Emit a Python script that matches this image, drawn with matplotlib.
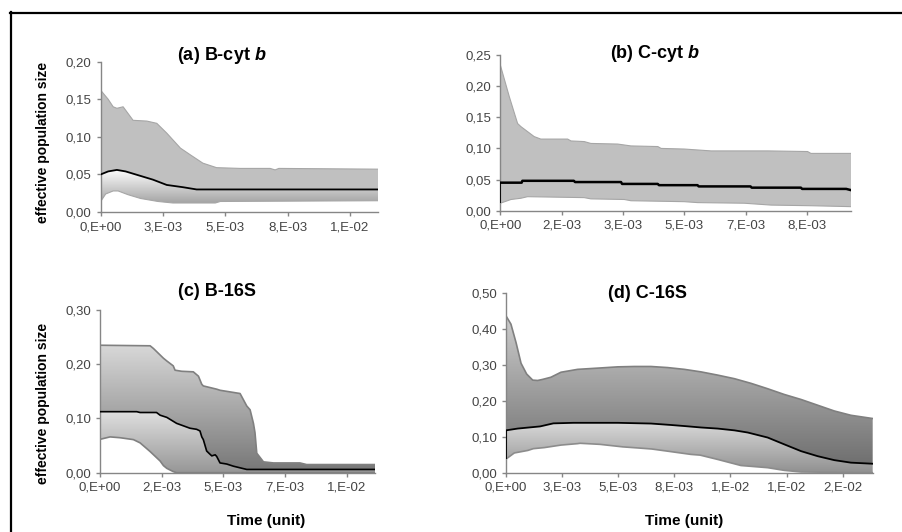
import numpy as np
import matplotlib
matplotlib.use("Agg")
import matplotlib.pyplot as plt
from matplotlib.patches import Polygon
from matplotlib.lines import Line2D
from matplotlib.colors import LinearSegmentedColormap

plt.rcParams["font.family"] = ["Liberation Sans", "DejaVu Sans"]
plt.rcParams["mathtext.fontset"] = "custom"
plt.rcParams["mathtext.rm"] = "Liberation Sans:bold"
plt.rcParams["mathtext.it"] = "Liberation Sans:italic:bold"
plt.rcParams["mathtext.bf"] = "Liberation Sans:bold"

# x values are in units of 1e-3 (time), y = effective population size

# (a) B-cyt b
a_up_x = [0, 0.3, 0.5, 0.65, 0.9, 1.3, 1.85, 2.25, 2.65, 3.2, 3.6, 4.1, 4.65, 5.6, 6.8, 7.0, 7.15, 11.13]
a_up_y = [0.162, 0.150, 0.140, 0.138, 0.140, 0.122, 0.121, 0.118, 0.105, 0.085, 0.076, 0.065, 0.059, 0.058, 0.058, 0.056, 0.058, 0.057]
a_med_x = [0, 0.3, 0.65, 1.0, 1.6, 2.1, 2.65, 3.3, 3.85, 11.13]
a_med_y = [0.050, 0.054, 0.056, 0.054, 0.048, 0.043, 0.036, 0.033, 0.030, 0.030]
a_low_x = [0, 0.2, 0.5, 0.7, 1.1, 1.6, 2.3, 2.9, 4.6, 4.8, 11.13]
a_low_y = [0.014, 0.024, 0.028, 0.028, 0.023, 0.018, 0.014, 0.012, 0.012, 0.014, 0.015]

# (b) C-cyt b
b_up_x = [0, 0.245, 0.47, 0.56, 0.74, 0.92, 1.1, 1.83, 1.92, 2.28, 2.46, 3.19, 3.55, 4.28, 4.37, 5.0, 5.73, 7.27, 8.35, 8.44, 9.53]
b_up_y = [0.234, 0.183, 0.140, 0.135, 0.127, 0.119, 0.115, 0.115, 0.112, 0.111, 0.108, 0.107, 0.104, 0.103, 0.100, 0.099, 0.096, 0.096, 0.095, 0.092, 0.092]
b_med_x = [0, 0.58, 0.6, 2.0, 2.03, 3.28, 3.31, 4.28, 4.31, 5.36, 5.39, 6.8, 6.83, 8.17, 8.2, 9.4, 9.53]
b_med_y = [0.045, 0.045, 0.048, 0.048, 0.046, 0.046, 0.043, 0.043, 0.041, 0.041, 0.039, 0.039, 0.037, 0.037, 0.035, 0.035, 0.033]
b_low_x = [0, 0.29, 0.56, 0.74, 2.28, 2.46, 3.37, 3.55, 5.0, 5.36, 6.63, 7.36, 8.44, 9.53]
b_low_y = [0.012, 0.018, 0.020, 0.0225, 0.021, 0.019, 0.018, 0.016, 0.0145, 0.013, 0.012, 0.009, 0.008, 0.0065]

# (c) B-16S
c_up_x = [0, 1.95, 2.08, 2.47, 2.6, 2.85, 2.92, 3.18, 3.63, 3.83, 3.96, 4.02, 4.54, 4.67, 5.06, 5.45, 5.71, 5.84, 5.97, 6.03, 6.10, 6.36, 6.75, 7.78, 8.04, 10.70]
c_up_y = [0.235, 0.234, 0.229, 0.211, 0.206, 0.197, 0.189, 0.187, 0.186, 0.178, 0.163, 0.160, 0.154, 0.152, 0.149, 0.146, 0.123, 0.116, 0.091, 0.074, 0.036, 0.020, 0.018, 0.018, 0.015, 0.015]
c_med_x = [0, 1.43, 1.56, 2.2, 2.34, 2.6, 2.98, 3.5, 3.76, 3.89, 3.96, 4.02, 4.15, 4.28, 4.35, 4.48, 4.54, 4.67, 4.93, 5.06, 5.19, 5.45, 5.71, 10.70]
c_med_y = [0.1125, 0.1125, 0.111, 0.111, 0.106, 0.102, 0.091, 0.082, 0.080, 0.077, 0.066, 0.061, 0.040, 0.034, 0.031, 0.033, 0.030, 0.018, 0.016, 0.014, 0.012, 0.009, 0.006, 0.006]
c_low_x = [0, 0.39, 0.78, 1.30, 1.56, 1.95, 2.34, 2.47, 2.6, 2.85, 2.98, 10.70]
c_low_y = [0.0615, 0.066, 0.0645, 0.061, 0.055, 0.039, 0.0215, 0.013, 0.008, 0.002, 0.0, 0.0]

# (d) C-16S
d_up_x = [0, 0.22, 0.45, 0.67, 0.92, 1.19, 1.41, 1.63, 2.0, 2.45, 3.19, 4.23, 4.98, 5.72, 6.46, 7.20, 7.95, 8.69, 9.43, 10.18, 10.92, 11.66, 12.40, 13.15, 13.89, 14.63, 15.37, 16.34]
d_up_y = [0.437, 0.414, 0.362, 0.305, 0.275, 0.258, 0.257, 0.260, 0.266, 0.280, 0.288, 0.292, 0.295, 0.296, 0.296, 0.293, 0.288, 0.281, 0.272, 0.262, 0.249, 0.234, 0.218, 0.204, 0.188, 0.172, 0.160, 0.151]
d_med_x = [0, 0.52, 1.52, 2.11, 3.0, 4.98, 6.46, 7.35, 7.95, 8.69, 9.43, 10.18, 10.77, 11.66, 12.40, 13.15, 13.89, 14.63, 15.37, 16.34]
d_med_y = [0.118, 0.123, 0.129, 0.1375, 0.139, 0.139, 0.137, 0.133, 0.130, 0.126, 0.123, 0.118, 0.112, 0.098, 0.079, 0.060, 0.046, 0.035, 0.028, 0.025]
d_low_x = [0, 0.37, 0.97, 1.22, 1.71, 2.45, 3.19, 3.3, 4.19, 5.2, 5.87, 6.5, 7.2, 8.24, 8.65, 9.43, 10.47, 11.66, 12.40, 13.15, 16.34]
d_low_y = [0.038, 0.055, 0.062, 0.067, 0.070, 0.077, 0.081, 0.082, 0.079, 0.072, 0.069, 0.066, 0.060, 0.051, 0.049, 0.037, 0.020, 0.014, 0.0065, 0.002, 0.0]

# axes
a_xticks = [0, 2.5, 5, 7.5, 10]
a_xlabels = ["0,E+00", "3,E-03", "5,E-03", "8,E-03", "1,E-02"]
b_xticks = [0, 1.667, 3.333, 5.0, 6.667, 8.333]
b_xlabels = ["0,E+00", "2,E-03", "3,E-03", "5,E-03", "7,E-03", "8,E-03"]
c_xticks = [0, 2.4, 4.8, 7.2, 9.6]
c_xlabels = ["0,E+00", "2,E-03", "5,E-03", "7,E-03", "1,E-02"]
d_xticks = [0, 2.5, 5, 7.5, 10, 12.5, 15]
d_xlabels = ["0,E+00", "3,E-03", "5,E-03", "8,E-03", "1,E-02", "1,E-02", "2,E-02"]

a_yticks = [0, 0.05, 0.10, 0.15, 0.20]
b_yticks = [0, 0.05, 0.10, 0.15, 0.20, 0.25]
c_yticks = [0, 0.10, 0.20, 0.30]
d_yticks = [0, 0.10, 0.20, 0.30, 0.40, 0.50]

W, H = 903, 532
fig = plt.figure(figsize=(W / 100, H / 100), dpi=100)


def px_box(x0, x1, ytop, ybot):
    return [x0 / W, 1 - ybot / H, (x1 - x0) / W, (ybot - ytop) / H]


def poly_pts(x1, y1, x2, y2):
    return np.column_stack([np.r_[x1, x2[::-1]], np.r_[y1, y2[::-1]]])


def flat_band(ax, x1, y1, x2, y2, color):
    ax.add_patch(Polygon(poly_pts(np.array(x1), np.array(y1), np.array(x2), np.array(y2)),
                         closed=True, facecolor=color, edgecolor="none", zorder=1))


def grad_band(ax, x1, y1, x2, y2, c_top, c_bot, y_top, xmax):
    poly = Polygon(poly_pts(np.array(x1), np.array(y1), np.array(x2), np.array(y2)),
                   closed=True, facecolor="none", edgecolor="none", zorder=1)
    ax.add_patch(poly)
    cmap = LinearSegmentedColormap.from_list("g", [c_bot, c_top])
    im = ax.imshow(np.linspace(0, 1, 256).reshape(-1, 1), cmap=cmap, origin="lower",
                   aspect="auto", extent=[0, xmax, 0, y_top], interpolation="bilinear", zorder=1)
    im.set_clip_path(poly)


def style(ax, xmax, xticks, xlabels, yticks):
    ax.set_xlim(0, xmax)
    ax.set_ylim(0, yticks[-1])
    ax.set_xticks(xticks)
    ax.set_xticklabels(xlabels)
    ax.set_yticks(yticks)
    ax.set_yticklabels([f"{v:.2f}".replace(".", ",") for v in yticks])
    for s in ["top", "right"]:
        ax.spines[s].set_visible(False)
    for s in ["left", "bottom"]:
        ax.spines[s].set_color("#868686")
        ax.spines[s].set_linewidth(1.0)
    ax.tick_params(direction="out", length=3, width=1, color="#868686",
                   labelsize=9.5, labelcolor="#444444", pad=3.5)


# (a)
ax = fig.add_axes(px_box(100.7, 378, 61.7, 212))
flat_band(ax, a_up_x, a_up_y, a_med_x, a_med_y, "#c0c0c0")
grad_band(ax, a_med_x, a_med_y, a_low_x, a_low_y, "#ffffff", "#8c8c8c", 0.056, 11.13)
ax.plot(a_up_x, a_up_y, color="#a6a6a6", lw=0.8, zorder=2)
ax.plot(a_low_x, a_low_y, color="#a6a6a6", lw=0.8, zorder=2)
ax.plot(a_med_x, a_med_y, color="black", lw=1.3, zorder=3)
style(ax, 11.13, a_xticks, a_xlabels, a_yticks)

# (b)
ax = fig.add_axes(px_box(500.3, 851, 55, 210.7))
flat_band(ax, b_up_x, b_up_y, b_low_x, b_low_y, "#c0c0c0")
ax.plot(b_up_x, b_up_y, color="#a6a6a6", lw=0.8, zorder=2)
ax.plot(b_low_x, b_low_y, color="#a6a6a6", lw=0.8, zorder=2)
ax.vlines(b_med_x[0], b_low_y[0], b_med_y[0], color="black", lw=1.3, zorder=3)
ax.plot(b_med_x, b_med_y, color="black", lw=1.8, zorder=3)
style(ax, 9.53, b_xticks, b_xlabels, b_yticks)

# (c)
ax = fig.add_axes(px_box(100, 375, 310, 472.7))
grad_band(ax, c_up_x, c_up_y, c_med_x, c_med_y, "#d8d8d8", "#767676", 0.235, 10.70)
grad_band(ax, c_med_x, c_med_y, c_low_x, c_low_y, "#e0e0e0", "#969696", 0.1125, 10.70)
ax.plot(c_up_x, c_up_y, color="#808080", lw=1.2, zorder=2)
ax.plot(c_low_x, c_low_y, color="#808080", lw=1.2, zorder=2)
ax.plot(c_med_x, c_med_y, color="black", lw=1.2, zorder=3)
style(ax, 10.70, c_xticks, c_xlabels, c_yticks)

# (d)
ax = fig.add_axes(px_box(506, 872.7, 293.3, 472.7))
grad_band(ax, d_up_x, d_up_y, d_med_x, d_med_y, "#cccccc", "#6a6a6a", 0.437, 16.34)
grad_band(ax, d_med_x, d_med_y, d_low_x, d_low_y, "#d8d8d8", "#909090", 0.139, 16.34)
ax.plot(d_up_x, d_up_y, color="#808080", lw=1.2, zorder=2)
ax.plot(d_low_x, d_low_y, color="#8c8c8c", lw=1.2, zorder=2)
ax.vlines(d_med_x[0], d_low_y[0], d_med_y[0], color="black", lw=1.3, zorder=3)
ax.plot(d_med_x, d_med_y, color="black", lw=1.3, zorder=3)
style(ax, 16.34, d_xticks, d_xlabels, d_yticks)

# titles and labels
titles = ["(a) B-cyt $\\mathit{b}$", "(b) C-cyt $\\mathit{b}$", "(c) B-16S", "(d) C-16S"]
title_pos = [(222, 55), (655, 53), (217, 292), (648, 294)]
for t, (x, y) in zip(titles, title_pos):
    fig.text(x / W, 1 - y / H, t, ha="center", va="center", fontsize=13, fontweight="bold")

for y in [142, 403]:
    fig.text(43 / W, 1 - y / H, "effective population size", rotation=90,
             ha="center", va="center", fontsize=10, fontweight="bold")
for x in [266, 684]:
    fig.text(x / W, 1 - 521 / H, "Time (unit)", ha="center", va="center",
             fontsize=11, fontweight="bold")

# frame of the original chart area (cropped)
fig.add_artist(Line2D([10 / W, 1], [1 - 12.7 / H] * 2, transform=fig.transFigure, color="black", lw=1.6))
fig.add_artist(Line2D([11.2 / W] * 2, [0, 1 - 11.8 / H], transform=fig.transFigure, color="black", lw=1.6))

fig.savefig("out.png", dpi=100)
